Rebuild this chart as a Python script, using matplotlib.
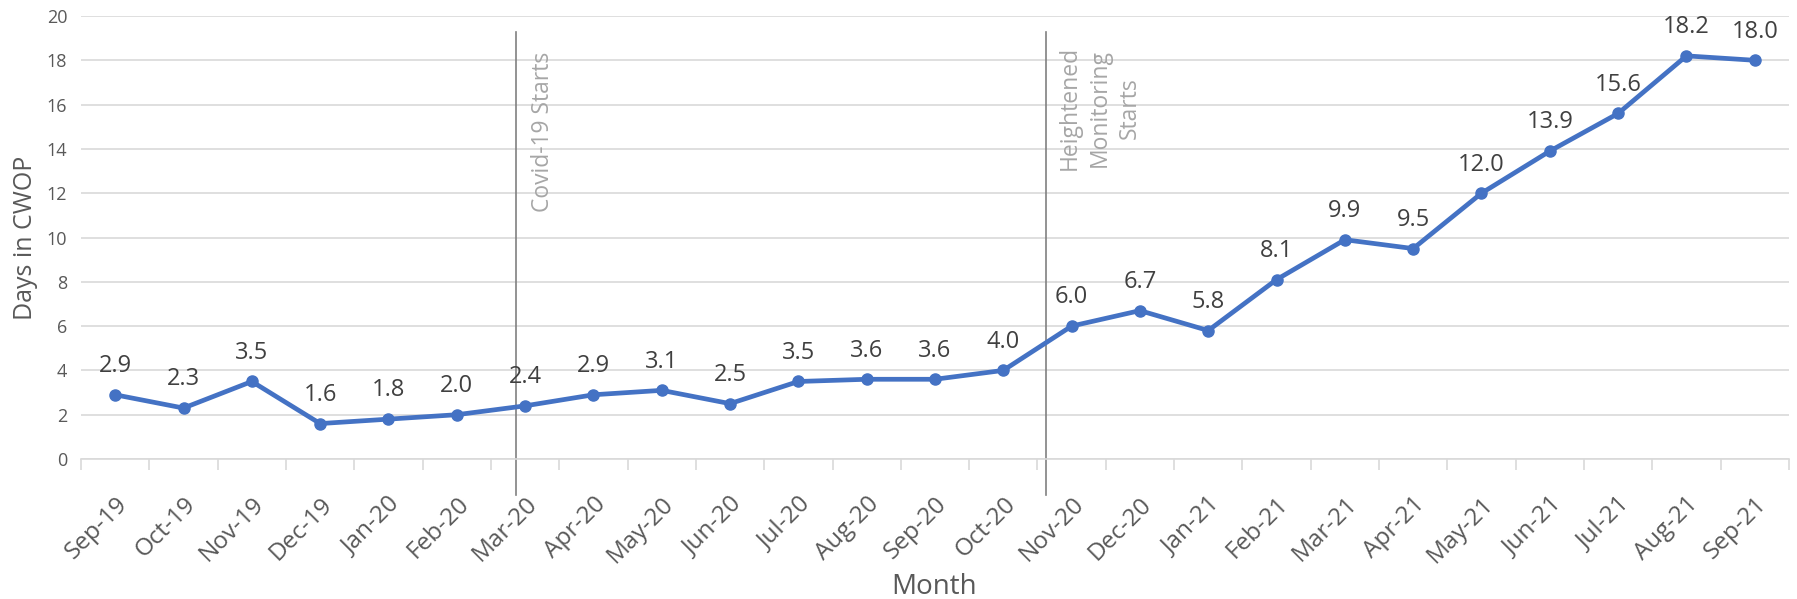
import numpy as np
import matplotlib
matplotlib.use('Agg')
import matplotlib.pyplot as plt
from matplotlib.ticker import FixedLocator

plt.rcParams['font.family'] = ['Open Sans', 'DejaVu Sans']

months = ['Sep-19', 'Oct-19', 'Nov-19', 'Dec-19', 'Jan-20', 'Feb-20', 'Mar-20',
          'Apr-20', 'May-20', 'Jun-20', 'Jul-20', 'Aug-20', 'Sep-20', 'Oct-20',
          'Nov-20', 'Dec-20', 'Jan-21', 'Feb-21', 'Mar-21', 'Apr-21', 'May-21',
          'Jun-21', 'Jul-21', 'Aug-21', 'Sep-21']
days = [2.9, 2.3, 3.5, 1.6, 1.8, 2.0, 2.4, 2.9, 3.1, 2.5, 3.5, 3.6, 3.6, 4.0,
        6.0, 6.7, 5.8, 8.1, 9.9, 9.5, 12.0, 13.9, 15.6, 18.2, 18.0]

# event markers (position in category units, text)
events = [(5.87, 'Covid-19 Starts'), (13.63, 'Heightened\nMonitoring\nStarts')]

grey = '#595959'
grid_c = '#D9D9D9'
line_c = '#4472C4'

fig = plt.figure(figsize=(17.97, 5.99), dpi=100)
ax = fig.add_axes([0.0451, 0.2337, 0.9504, 0.7396])

x = np.arange(len(months))
ax.plot(x, days, color=line_c, lw=3.4, marker='o', ms=8, zorder=3)
for xi, v in zip(x, days):
    ax.annotate(f'{v:.1f}', (xi, v), xytext=(0, 12), textcoords='offset points',
                ha='center', va='bottom', fontsize=17, color='#404040')

ax.set_xlim(-0.5, len(months) - 0.5)
ax.set_ylim(0, 20)
ax.set_yticks(np.arange(0, 21, 2))
ax.yaxis.grid(True, color=grid_c, lw=1.2)
ax.set_axisbelow(True)
ax.tick_params(axis='y', length=0, labelsize=13, colors=grey, pad=10)

ax.set_xticks(x)
ax.set_xticklabels(months, rotation=45, ha='right', va='top',
                   rotation_mode='anchor', fontsize=17.5, color=grey)
ax.tick_params(axis='x', which='major', length=0, pad=24)
ax.xaxis.set_minor_locator(FixedLocator(np.arange(-0.5, len(months), 1)))
ax.tick_params(axis='x', which='minor', length=8, color=grid_c, width=1.2)

for s in ['top', 'right', 'left']:
    ax.spines[s].set_visible(False)
ax.spines['bottom'].set_color(grid_c)
ax.spines['bottom'].set_linewidth(1.2)

ax.plot([events[0][0]] * 2, [-1.63, 19.28], color='#808080', lw=1.2, clip_on=False, zorder=2)
ax.text(events[0][0] + 0.22, 18.4, events[0][1], rotation=90, ha='left', va='top',
        fontsize=16.5, color='#A6A6A6')
ax.plot([events[1][0]] * 2, [-1.63, 19.28], color='#808080', lw=1.2, clip_on=False, zorder=2)
ax.text(events[1][0] + 0.16, 18.65, events[1][1], rotation=90, ha='left', va='top',
        multialignment='center', fontsize=16.5, color='#A6A6A6', linespacing=1.35)

ax.set_ylabel('Days in CWOP', fontsize=18, color=grey, labelpad=6)
fig.text(0.520, 0.02, 'Month', ha='center', va='center', fontsize=20, color=grey)

fig.savefig('out.png', dpi=100)
